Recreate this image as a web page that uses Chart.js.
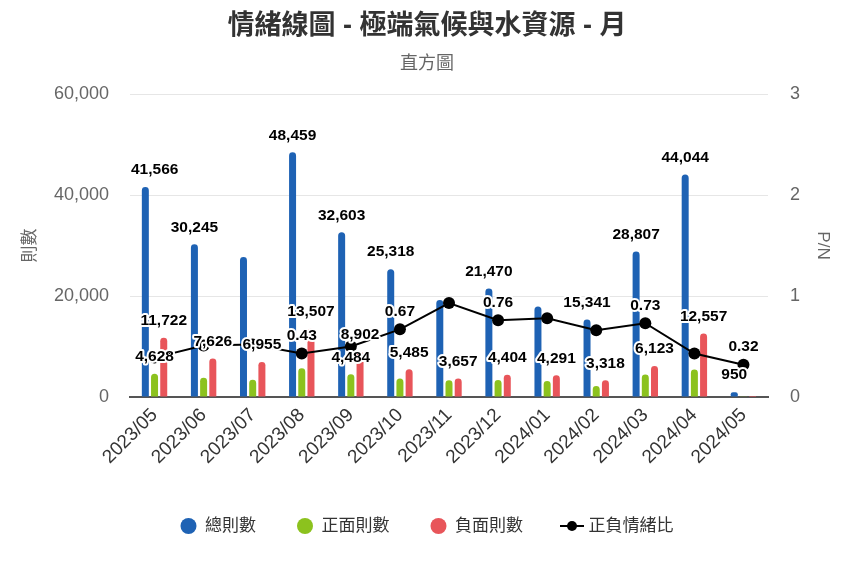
<!DOCTYPE html>
<html>
<head>
<meta charset="utf-8">
<script src="https://cdn.jsdelivr.net/npm/chart.js@4"></script>
<style>
html,body{margin:0;padding:0;background:#fff;}
#wrap{width:854px;height:569px;}
</style>
</head>
<body>
<div id="wrap"><canvas id="c" width="854" height="569"></canvas></div>
<script>
// ---- data ----
const categories = ['2023/05','2023/06','2023/07','2023/08','2023/09','2023/10','2023/11','2023/12','2024/01','2024/02','2024/03','2024/04','2024/05'];
const totalCounts    = [41566, 30245, 27700, 48459, 32603, 25318, 19200, 21470, 17900, 15341, 28807, 44044, 950];
const positiveCounts = [4628, 3800, 3400, 5700, 4484, 3675, 3300, 3350, 3150, 2190, 4470, 5450, 70];
const negativeCounts = [11722, 7626, 6955, 13507, 8902, 5485, 3657, 4404, 4291, 3318, 6123, 12557, 220];
const pnRatio        = [0.39, 0.51, 0.52, 0.43, 0.50, 0.67, 0.93, 0.76, 0.78, 0.66, 0.73, 0.43, 0.32];
// which value labels are visible in the reference (overlapping ones are hidden)
const totalLabelShown    = [1,1,0,1,1,1,0,1,0,1,1,1,1];
const positiveLabelShown = [1,0,0,0,1,0,0,0,0,0,0,0,0];
const negativeLabelShown = [1,1,1,1,1,1,1,1,1,1,1,1,0];
const ratioLabelShown    = [0,0,0,1,0,1,0,1,0,0,1,0,1];
const leftTicks = [0, 20000, 40000, 60000];
const rightTicks = [0, 1, 2, 3];

const seriesNames = ['總則數', '正面則數', '負面則數', '正負情緒比'];
const COLORS = ['#1e62b4', '#8cc21e', '#e8555a', '#000000'];
const LATIN = '"Liberation Sans", Arial, "Noto Sans CJK TC", sans-serif';

const fmtInt = v => v.toLocaleString('en-US');
const fmtRatio = v => v.toFixed(2);

// legend symbol for the line series
const lineSym = document.createElement('canvas');
lineSym.width = 24; lineSym.height = 12;
(function(){
  const g = lineSym.getContext('2d');
  g.strokeStyle = '#000'; g.lineWidth = 2;
  g.beginPath(); g.moveTo(0, 6); g.lineTo(24, 6); g.stroke();
  g.fillStyle = '#000'; g.beginPath(); g.arc(12, 6, 5, 0, Math.PI*2); g.fill();
})();

const shownMap = [totalLabelShown, positiveLabelShown, negativeLabelShown, ratioLabelShown];

const labelPlugin = {
  id: 'valueLabels',
  afterDatasetsDraw(chart) {
    const ctx = chart.ctx;
    const area = chart.chartArea;
    ctx.save();
    ctx.font = 'bold 15.5px ' + LATIN;
    ctx.textAlign = 'center';
    ctx.textBaseline = 'middle';
    ctx.lineJoin = 'round';
    chart.data.datasets.forEach((ds, i) => {
      const meta = chart.getDatasetMeta(i);
      meta.data.forEach((el, j) => {
        if (!shownMap[i][j]) return;
        const v = ds.data[j];
        const txt = i === 3 ? fmtRatio(v) : fmtInt(v);
        const w = ctx.measureText(txt).width;
        let x = el.x;
        if (x - w/2 < area.left + 1) x = area.left + 1 + w/2;
        if (x + w/2 > area.right - 1) x = area.right - 1 - w/2;
        const y = el.y - (i === 3 ? 18 : 17);
        ctx.lineWidth = 4;
        ctx.strokeStyle = '#ffffff';
        ctx.strokeText(txt, x, y);
        ctx.fillStyle = '#000000';
        ctx.fillText(txt, x, y);
      });
    });
    ctx.restore();
  }
};

const barCommon = {
  type: 'bar',
  yAxisID: 'y',
  categoryPercentage: 0.5625,
  barPercentage: 0.76,
  borderRadius: {topLeft: 3.5, topRight: 3.5, bottomLeft: 0, bottomRight: 0},
  borderSkipped: 'start',
  order: 2
};

new Chart(document.getElementById('c'), {
  data: {
    labels: categories,
    datasets: [
      Object.assign({label: seriesNames[0], data: totalCounts, backgroundColor: COLORS[0]}, barCommon),
      Object.assign({label: seriesNames[1], data: positiveCounts, backgroundColor: COLORS[1]}, barCommon),
      Object.assign({label: seriesNames[2], data: negativeCounts, backgroundColor: COLORS[2]}, barCommon),
      {
        type: 'line', label: seriesNames[3], data: pnRatio, yAxisID: 'y1',
        borderColor: '#000', backgroundColor: '#000', borderWidth: 2,
        pointRadius: 6, pointHoverRadius: 6, pointBackgroundColor: '#000', pointBorderWidth: 0,
        tension: 0, order: 1
      }
    ]
  },
  options: {
    responsive: false,
    devicePixelRatio: 1,
    animation: false,
    layout: { padding: { top: 0, left: 0, right: 0, bottom: 32.5 } },
    plugins: {
      tooltip: { enabled: false },
      title: {
        display: true, text: '情緒線圖 - 極端氣候與水資源 - 月',
        color: '#333333', font: { size: 27, weight: 'bold', family: LATIN },
        padding: { top: 10.8, bottom: 4 }
      },
      subtitle: {
        display: true, text: '直方圖',
        color: '#666666', font: { size: 18, family: LATIN },
        padding: { top: 6, bottom: 19.2 }
      },
      legend: {
        position: 'bottom',
        maxHeight: 60,
        labels: {
          color: '#333333',
          font: { size: 17, family: LATIN },
          usePointStyle: true,
          pointStyleWidth: 16,
          boxHeight: 11.3,
          padding: 41,
          generateLabels(chart) {
            return chart.data.datasets.map((ds, i) => ({
              text: ds.label,
              fillStyle: COLORS[i],
              strokeStyle: COLORS[i],
              lineWidth: 0,
              pointStyle: i === 3 ? lineSym : 'circle',
              hidden: false,
              datasetIndex: i,
              fontColor: '#333333'
            }));
          }
        }
      }
    },
    scales: {
      x: {
        grid: { display: false, drawTicks: false },
        border: { display: true, color: '#555555', width: 2 },
        ticks: {
          color: '#333333', font: { size: 19, family: LATIN },
          autoSkip: false, maxRotation: 45, minRotation: 45, padding: 7
        },
        afterFit(s) { s.height = 79.5; }
      },
      y: {
        position: 'left',
        min: 0, max: 60000,
        afterBuildTicks(s) { s.ticks = leftTicks.map(v => ({ value: v })); },
        grid: { color: '#e6e6e6', lineWidth: 1, drawTicks: false },
        border: { display: false },
        ticks: {
          color: '#666666', font: { size: 18, family: LATIN }, padding: 21,
          callback: v => fmtInt(v)
        },
        title: {
          display: true, text: '則數', color: '#666666',
          font: { size: 17, family: LATIN }, padding: { top: 20, bottom: 0 }
        },
        afterFit(s) { s.width = 130; }
      },
      y1: {
        position: 'right',
        min: 0, max: 3,
        afterBuildTicks(s) { s.ticks = rightTicks.map(v => ({ value: v })); },
        grid: { display: false, drawTicks: false },
        border: { display: false },
        ticks: {
          color: '#666666', font: { size: 18, family: LATIN }, padding: 22,
          callback: v => String(v)
        },
        title: {
          display: true, text: 'P/N', color: '#666666',
          font: { size: 17, family: LATIN }, padding: { top: 21, bottom: 0 }
        },
        afterFit(s) { s.width = 86; }
      }
    }
  },
  plugins: [labelPlugin]
});
</script>
</body>
</html>
